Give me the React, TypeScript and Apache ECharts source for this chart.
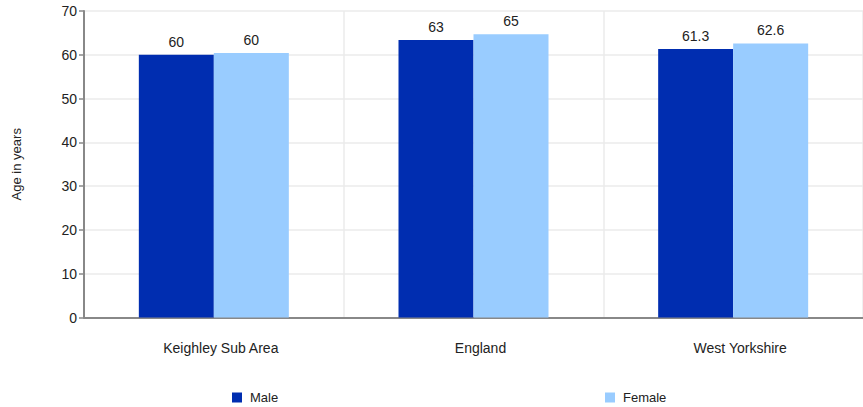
import React, { useEffect, useRef } from "react";
import * as echarts from "echarts";

const categories = ["Keighley Sub Area", "England", "West Yorkshire"];
const maleValues = [60, 63.4, 61.3];
const femaleValues = [60.4, 64.7, 62.6];
const maleLabels = ["60", "63", "61.3"];
const femaleLabels = ["60", "65", "62.6"];
const yTicks = [0, 10, 20, 30, 40, 50, 60, 70];

const FONT = "'Liberation Sans', Arial, sans-serif";

export default function App() {
  const ref = useRef<HTMLDivElement>(null);
  useEffect(() => {
    document.body.style.margin = "0";
    const chart = echarts.init(ref.current!, null, { renderer: "svg" });
    chart.setOption({
      animation: false,
      textStyle: { fontFamily: FONT },
      grid: { left: 84, top: 11, width: 785, height: 306.5 },
      legend: [
        {
          data: ["Male"],
          left: 232,
          top: 391,
          padding: 0,
          icon: "rect",
          itemWidth: 10,
          itemHeight: 10,
          textStyle: { fontSize: 13, color: "#222", fontFamily: FONT, padding: [0, 0, 0, 3] },
        },
        {
          data: ["Female"],
          left: 605,
          top: 391,
          padding: 0,
          icon: "rect",
          itemWidth: 10,
          itemHeight: 10,
          textStyle: { fontSize: 13, color: "#222", fontFamily: FONT, padding: [0, 0, 0, 3] },
        },
      ],
      xAxis: {
        type: "category",
        data: categories,
        axisLine: { lineStyle: { color: "#888", width: 2 } },
        axisTick: { show: false },
        axisLabel: {
          color: "#222",
          fontSize: 14,
          margin: 23,
          padding: [0, 0, 0, 14],
          fontFamily: FONT,
        },
        splitLine: { show: true, lineStyle: { color: "#ebebeb", width: 1.5 } },
      },
      yAxis: {
        type: "value",
        min: yTicks[0],
        max: yTicks[yTicks.length - 1],
        interval: 10,
        name: "Age in years",
        nameLocation: "middle",
        nameGap: 61,
        nameTextStyle: { fontSize: 13, color: "#222", fontFamily: FONT },
        axisLine: { show: true, lineStyle: { color: "#888", width: 2 } },
        axisTick: { show: true, length: 5, lineStyle: { color: "#888", width: 1.5 } },
        axisLabel: { color: "#222", fontSize: 14, margin: 7, fontFamily: FONT },
        splitLine: { show: true, lineStyle: { color: "#ebebeb", width: 1.5 } },
      },
      series: [
        {
          name: "Male",
          type: "bar",
          data: maleValues,
          barWidth: 75,
          barGap: "0%",
          itemStyle: { color: "#002db0" },
          label: {
            show: true,
            position: "top",
            distance: 6,
            color: "#222",
            fontSize: 14,
            fontFamily: FONT,
            formatter: (p: any) => maleLabels[p.dataIndex],
          },
        },
        {
          name: "Female",
          type: "bar",
          data: femaleValues,
          barWidth: 75,
          barGap: "0%",
          itemStyle: { color: "#99ccff" },
          label: {
            show: true,
            position: "top",
            distance: 6,
            color: "#222",
            fontSize: 14,
            fontFamily: FONT,
            formatter: (p: any) => femaleLabels[p.dataIndex],
          },
        },
      ],
    });
    return () => chart.dispose();
  }, []);
  return <div ref={ref} style={{ width: 863, height: 407 }} />;
}
